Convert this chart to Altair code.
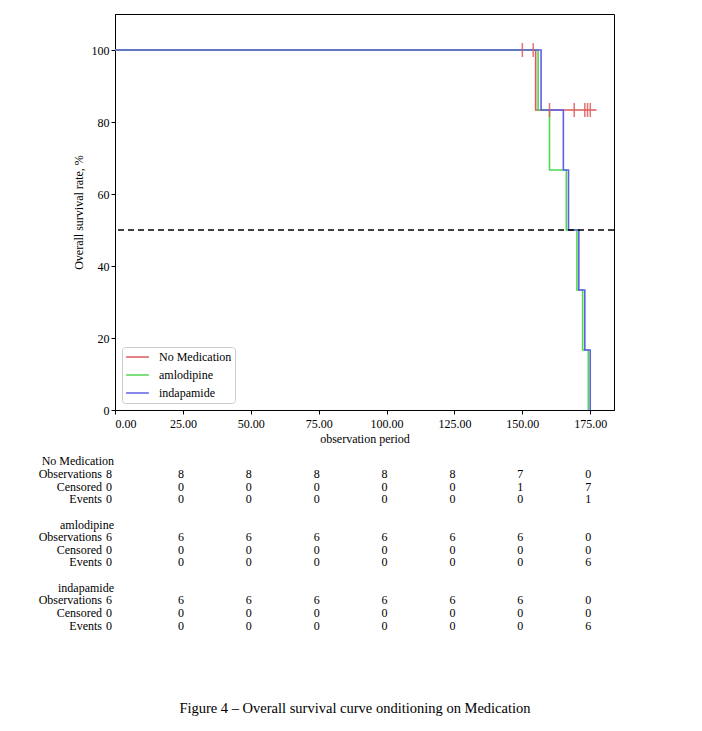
import altair as alt
import pandas as pd

FONT = "Liberation Serif"

groups = ["No Medication", "amlodipine", "indapamide"]
colors = ["#e05a5a", "#4fd64f", "#5f5fe6"]

# Kaplan-Meier step curves (time, survival %)
red_t = [0, 154.9, 177.3]
red_s = [100, 83.33, 83.33]
green_t = [0, 155.8, 160.0, 166.2, 170.1, 172.2, 174.3]
green_s = [100, 83.33, 66.67, 50.0, 33.33, 16.67, 0]
blue_t = [0, 156.9, 165.1, 167.0, 170.8, 173.0, 175.0]
blue_s = [100, 83.33, 66.67, 50.0, 33.33, 16.67, 0]

# censoring marks (No Medication)
cens_t = [150.0, 154.0, 160.0, 169.1, 173.0, 174.0, 175.0]
cens_s = [100, 100, 83.33, 83.33, 83.33, 83.33, 83.33]

median_level = [50]

tick_values = [0, 25, 50, 75, 100, 125, 150, 175]
row_names = ["Observations", "Censored", "Events"]
nomed_obs = [8, 8, 8, 8, 8, 8, 7, 0]
nomed_cens = [0, 0, 0, 0, 0, 0, 1, 7]
nomed_evt = [0, 0, 0, 0, 0, 0, 0, 1]
aml_obs = [6, 6, 6, 6, 6, 6, 6, 0]
aml_cens = [0, 0, 0, 0, 0, 0, 0, 0]
aml_evt = [0, 0, 0, 0, 0, 0, 0, 6]
ind_obs = [6, 6, 6, 6, 6, 6, 6, 0]
ind_cens = [0, 0, 0, 0, 0, 0, 0, 0]
ind_evt = [0, 0, 0, 0, 0, 0, 0, 6]

caption = "Figure 4 \u2013 Overall survival curve onditioning on Medication"

# ---------- build tables ----------
curves = []
for g, ts, ss in zip(groups, [red_t, green_t, blue_t], [red_s, green_s, blue_s]):
    for t, s in zip(ts, ss):
        curves.append({"group": g, "time": t, "surv": s})
curves = pd.DataFrame(curves)
cens = pd.DataFrame({"group": groups[0], "time": cens_t, "surv": cens_s})
median_df = pd.DataFrame({"y": median_level})

XDOM = [0, 183.75]
W, H = 499, 396

color_scale = alt.Scale(domain=groups, range=colors)

lines = alt.Chart(curves).mark_line(interpolate="step-after", strokeWidth=1.6).encode(
    x=alt.X("time:Q", scale=alt.Scale(domain=XDOM, nice=False, zero=False),
            axis=alt.Axis(values=tick_values, format=".2f", title="observation period",
                          grid=False, tickSize=4, labelPadding=4, titlePadding=4)),
    y=alt.Y("surv:Q", scale=alt.Scale(domain=[0, 110], nice=False),
            axis=alt.Axis(values=[0, 20, 40, 60, 80, 100], format="d",
                          title="Overall survival rate, %", grid=False, tickSize=4,
                          labelPadding=2, titlePadding=6)),
    color=alt.Color("group:N", scale=color_scale, sort=groups,
                    legend=alt.Legend(title=None, orient="bottom-left", offset=7,
                                      symbolType="stroke", symbolSize=520,
                                      symbolStrokeWidth=1.6, clipHeight=14, rowPadding=4,
                                      labelFontSize=12, labelFont=FONT, labelOffset=9,
                                      padding=3, strokeColor="#cccccc", cornerRadius=3,
                                      fillColor="white")),
    order=alt.Order("time:Q"),
)

ticks = alt.Chart(cens).mark_tick(orient="vertical", size=14, thickness=1.5, opacity=0.85).encode(
    x="time:Q", y="surv:Q",
    color=alt.Color("group:N", scale=color_scale, legend=None),
)

median = alt.Chart(median_df).mark_rule(color="black", strokeDash=[6, 4], strokeWidth=1.5).encode(
    y="y:Q"
)

top = alt.layer(lines, ticks, median).properties(width=W, height=H)

# ---------- at-risk table ----------
grp_rows, lab_rows, num0_rows, num_rows = [], [], [], []
data_sets = [
    [nomed_obs, nomed_cens, nomed_evt],
    [aml_obs, aml_cens, aml_evt],
    [ind_obs, ind_cens, ind_evt],
]
for gi, g in enumerate(groups):
    base = gi * 5
    grp_rows.append({"x": 0, "row": base, "text": g})
    for ri, rn in enumerate(row_names):
        r = base + 1 + ri
        lab_rows.append({"x": 0, "row": r, "text": rn})
        vals = data_sets[gi][ri]
        for tv, v in zip(tick_values, vals):
            rec = {"x": tv, "row": r, "text": str(v)}
            if tv == 0:
                num0_rows.append(rec)
            else:
                num_rows.append(rec)

xs = alt.Scale(domain=XDOM, nice=False, zero=False)
ys = alt.Scale(domain=[-0.5, 13.5], reverse=True, nice=False, zero=False)


def txt(df, align, dx):
    return alt.Chart(pd.DataFrame(df)).mark_text(
        align=align, baseline="middle", dx=dx, font=FONT, fontSize=12, color="black"
    ).encode(
        x=alt.X("x:Q", scale=xs, axis=None),
        y=alt.Y("row:Q", scale=ys, axis=None),
        text="text:N",
    )


table = alt.layer(
    txt(grp_rows, "right", -1),
    txt(lab_rows, "right", -13),
    txt(num0_rows, "center", -6),
    txt(num_rows, "center", -2),
).properties(width=W, height=177, view=alt.ViewBackground(stroke=None))

chart = alt.vconcat(top, table, spacing=10).resolve_legend(color="independent").properties(
    title=alt.TitleParams(caption, orient="bottom", anchor="middle", fontSize=14.5,
                          font=FONT, fontWeight="normal", color="black", offset=70, dx=28),
    padding={"left": 30, "top": 5, "right": 5, "bottom": 5},
).configure(font=FONT).configure_view(stroke="black", strokeWidth=1).configure_axis(
    labelFont=FONT, titleFont=FONT, labelFontSize=12, titleFontSize=12,
    titleFontWeight="normal", labelColor="black", titleColor="black",
    domainColor="black", tickColor="black",
)

chart.save("out.html", embed_options={"renderer": "svg", "actions": False})
